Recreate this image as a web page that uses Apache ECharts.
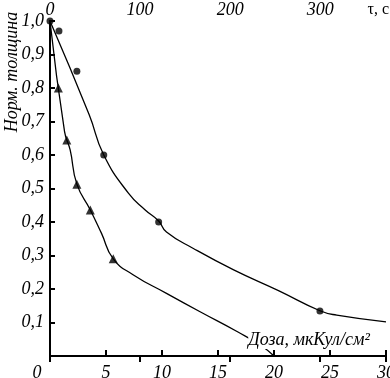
<!DOCTYPE html>
<html>
<head>
<meta charset="utf-8">
<script src="https://cdn.jsdelivr.net/npm/echarts@6/dist/echarts.min.js"></script>
<style>
html, body { margin: 0; padding: 0; background: #fff; }
#chart { width: 390px; height: 378px; }
</style>
</head>
<body>
<div id="chart"></div>
<script>
// измеренные точки (кружки)
var circleDose  = [0, 0.8, 2.4, 4.8, 9.7, 24.1];
var circleThick = [1.0, 0.97, 0.85, 0.6, 0.4, 0.134];
// измеренные точки (треугольники)
var triDose  = [0.75, 1.5, 2.4, 3.6, 5.65];
var triThick = [0.8, 0.645, 0.513, 0.436, 0.29];
// аппроксимирующие кривые
var circleFitDose  = [0, 3.5, 4.8, 7.0, 8.5, 9.7, 10.4, 12.8, 16.4, 20.4, 24.1, 25.6, 30];
var circleFitThick = [1.0, 0.72, 0.6, 0.486, 0.436, 0.403, 0.37, 0.321, 0.257, 0.195, 0.135, 0.122, 0.102];
var triFitDose  = [0, 1.3, 1.8, 2.4, 3.6, 4.6, 5.65, 7.45, 10.4, 13.4, 16.7, 18.9, 20];
var triFitThick = [1.0, 0.67, 0.615, 0.513, 0.436, 0.366, 0.29, 0.242, 0.187, 0.132, 0.073, 0.03, 0];

var yName = 'Норм. толщина';
var xName = 'Доза, мкКул/см²';
var topName = 'τ, с';

function pairs(xs, ys) {
	return xs.map(function (x, i) { return [x, ys[i]]; });
}

var fontFam = '"Liberation Serif", "DejaVu Serif", serif';
var labelStyle = {
	color: '#000',
	fontFamily: fontFam,
	fontStyle: 'italic',
	fontSize: 18
};

var chart = echarts.init(document.getElementById('chart'));
chart.setOption({
	animation: false,
	backgroundColor: '#fff',
	grid: { left: 50, right: 4, top: 21, bottom: 22, outerBoundsMode: 'none', containLabel: false },
	xAxis: [{
		type: 'value',
		position: 'bottom',
		min: 0, max: 30, interval: 5,
		axisLine: { show: true, lineStyle: { color: '#000', width: 2 } },
		axisTick: { show: true, inside: true, length: 6, lineStyle: { color: '#000', width: 2 } },
		splitLine: { show: false },
		// подпись "0" внизу слева сдвинута левее оси
		axisLabel: Object.assign({}, labelStyle, {
			margin: 8,
			formatter: function (v) { return v === 0 ? '{z|0}' : String(v); },
			rich: { z: Object.assign({}, labelStyle, { padding: [0, 26, 0, 0] }) }
		})
	}, {
		type: 'value',
		position: 'top',
		min: 0, max: 373, interval: 100,
		axisLine: { show: true, lineStyle: { color: '#000', width: 2 } },
		axisTick: { show: true, inside: true, length: 6, lineStyle: { color: '#000', width: 2 } },
		splitLine: { show: false },
		axisLabel: Object.assign({}, labelStyle, {
			margin: 2,
			formatter: function (v) { return v % 100 === 0 ? String(v) : ''; }
		})
	}],
	yAxis: [{
		type: 'value',
		position: 'left',
		min: 0, max: 1, interval: 0.1,
		axisLine: { show: true, lineStyle: { color: '#000', width: 2 } },
		axisTick: { show: true, inside: true, length: 5, lineStyle: { color: '#000', width: 2 } },
		splitLine: { show: false },
		axisLabel: Object.assign({}, labelStyle, {
			margin: 6,
			formatter: function (v) { return v === 0 ? '' : v.toFixed(1).replace('.', ','); }
		})
	}, {
		type: 'value',
		position: 'right',
		min: 0, max: 1,
		axisLine: { show: true, lineStyle: { color: '#000', width: 2 } },
		axisTick: { show: false },
		axisLabel: { show: false },
		splitLine: { show: false }
	}],
	graphic: [{
		type: 'text',
		x: 12, y: 72,
		rotation: Math.PI / 2,
		z: 100,
		style: { text: yName, textAlign: 'center', textVerticalAlign: 'middle',
			fill: '#000', font: 'italic 18px ' + fontFam }
	}, {
		type: 'text',
		x: 309, y: 340,
		z: 100,
		style: { text: xName, textAlign: 'center', textVerticalAlign: 'middle',
			fill: '#000', font: 'italic 18px ' + fontFam, backgroundColor: '#fff' }
	}, {
		type: 'text',
		x: 389, y: 10,
		z: 100,
		style: { text: topName, textAlign: 'right', textVerticalAlign: 'middle',
			fill: '#000', font: '16px ' + fontFam }
	}],
	series: [{
		type: 'line',
		data: pairs(circleFitDose, circleFitThick),
		smooth: 0.5,
		symbol: 'none',
		lineStyle: { color: '#000', width: 1.3 },
		z: 2
	}, {
		type: 'line',
		data: pairs(triFitDose, triFitThick),
		smooth: 0.5,
		symbol: 'none',
		lineStyle: { color: '#000', width: 1.3 },
		z: 2
	}, {
		type: 'scatter',
		data: pairs(circleDose, circleThick),
		symbol: 'circle',
		symbolSize: 7,
		itemStyle: { color: '#000' },
		z: 3
	}, {
		type: 'scatter',
		data: pairs(triDose, triThick),
		symbol: 'triangle',
		symbolSize: 9,
		itemStyle: { color: '#000' },
		z: 3
	}]
});
</script>
</body>
</html>
